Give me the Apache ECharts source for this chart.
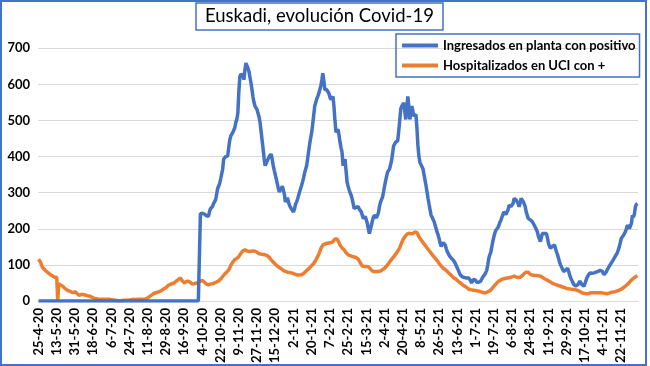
<!DOCTYPE html>
<html>
<head>
<meta charset="utf-8">
<script src="https://cdn.jsdelivr.net/npm/echarts@6/dist/echarts.min.js"></script>
<style>html,body{margin:0;padding:0;background:#fff}#c{width:650px;height:366px}</style>
</head>
<body>
<div id="c"></div>
<script>
const titleText = 'Euskadi, evolución Covid-19';
const seriesNames = ['Ingresados en planta con positivo', 'Hospitalizados en UCI con +'];
const startDate = [2020, 4, 25];
const yTicks = [0, 100, 200, 300, 400, 500, 600, 700];

const ingresados = [
0,0,0,0,0,0,0,0,0,0,0,0,0,0,0,0,0,0,0,0,
0,0,0,0,0,0,0,0,0,0,0,0,0,0,0,0,0,0,0,0,
0,0,0,0,0,0,0,0,0,0,0,0,0,0,0,0,0,0,0,0,
0,0,0,0,0,0,0,0,0,0,0,0,0,0,0,0,0,0,0,0,
0,0,0,0,0,0,0,0,0,0,0,0,0,0,0,0,0,0,0,0,
0,0,0,0,0,0,0,0,0,0,0,0,0,0,0,0,0,0,0,0,
0,0,0,0,0,0,0,0,0,0,0,0,0,0,0,0,0,0,0,0,
0,0,0,0,0,0,0,0,0,0,0,0,0,0,0,0,0,0,0,0,
242,244,243,240,241,238,236,233,235,248,
256,258,262,270,268,280,295,311,318,325,
338,336,365,393,398,400,399,402,425,445,
457,462,467,470,480,495,503,520,580,622,
628,631,625,613,640,659,652,645,636,620,
604,585,565,550,540,535,530,526,510,494,
470,445,421,395,375,380,388,393,400,405,
407,392,375,362,350,338,325,312,302,305,
312,318,320,296,274,280,286,288,265,262,
255,250,247,255,268,274,282,292,302,311,
320,330,342,355,365,375,395,415,435,452,
467,490,515,540,550,560,567,575,585,595,
612,631,610,586,584,585,586,575,565,558,
562,567,540,500,467,470,476,460,440,425,
412,375,385,393,360,329,318,308,300,293,
283,270,256,258,260,261,261,255,250,247,
238,229,229,234,238,215,200,187,198,210,
222,232,238,234,230,229,245,262,274,281,
288,302,318,332,345,357,362,366,371,390,
410,430,435,440,442,444,470,500,531,540,
545,549,525,503,535,567,540,503,520,540,
526,512,514,517,480,430,400,384,378,372,
366,350,335,320,302,284,268,253,238,232,
226,220,210,200,190,183,172,160,151,156,
162,165,155,145,137,132,126,121,119,116,
113,110,104,97,91,85,78,72,69,67,
66,65,64,64,65,64,64,57,50,55,
60,64,58,52,50,52,54,55,60,66,
70,73,78,85,100,118,128,135,150,165,
178,188,196,200,203,210,218,224,232,240,
247,244,240,238,252,265,263,262,261,270,
284,282,280,279,270,261,272,284,280,276,
274,262,247,238,229,227,225,224,220,215,
210,205,198,192,180,172,165,176,187,188,
187,187,187,175,160,152,146,148,152,155,
155,145,136,128,118,108,100,94,88,82,
82,86,89,91,82,72,64,58,52,46,
44,42,41,45,50,55,52,46,42,41,
48,56,64,70,75,78,78,77,78,78,
79,80,81,82,84,85,87,83,78,73,
76,80,86,91,96,100,105,110,114,119,
124,128,133,137,150,162,174,178,181,183,
192,200,210,206,201,203,215,238,232,242,
262,268,270
];

const uci = [
116,114,108,100,93,90,87,84,82,79,
77,75,73,71,69,68,66,64,66,0,
48,46,44,42,41,38,35,33,31,30,
28,27,26,24,23,26,26,25,21,18,
16,17,18,18,18,18,17,16,15,14,
14,13,12,10,9,8,7,6,6,5,
5,5,5,5,5,5,5,5,5,5,
5,4,4,3,3,2,2,1,1,1,
1,1,1,2,2,2,2,2,2,2,
3,3,4,4,5,5,4,5,5,5,
5,4,5,5,5,5,6,7,9,11,
13,15,17,19,21,22,23,24,25,26,
27,28,30,32,34,36,37,40,43,46,
46,47,48,48,50,53,55,57,59,61,
64,62,57,52,50,52,54,55,55,54,
52,50,47,46,48,49,50,50,52,54,
55,56,57,55,52,49,47,46,45,46,
47,48,48,49,50,51,53,55,56,58,
61,64,68,72,75,78,80,82,86,92,
99,104,108,112,115,117,118,119,123,128,
132,136,139,141,142,141,139,138,137,137,
138,138,139,139,138,137,135,133,131,130,
130,129,129,128,128,128,126,124,121,118,
114,111,108,105,102,99,97,95,93,91,
89,87,85,83,82,81,80,80,79,78,
78,77,76,75,74,73,72,71,72,73,
73,74,76,79,82,85,87,89,92,95,
98,100,104,108,113,118,124,130,137,145,
150,155,157,158,159,160,160,161,162,162,
163,164,168,172,174,172,169,162,155,150,
147,146,142,138,134,131,128,127,126,125,
124,123,122,121,120,119,116,111,106,101,
97,96,96,96,96,96,95,92,89,86,
83,82,82,82,82,82,82,82,83,85,
87,89,91,94,97,100,104,108,112,116,
119,122,126,130,134,137,142,148,155,162,
169,174,178,182,185,187,188,187,186,187,
187,189,191,192,190,185,178,174,170,166,
162,158,155,151,147,144,140,137,133,129,
125,122,119,116,112,108,104,100,97,94,
91,88,87,85,82,79,76,73,71,68,
65,63,62,60,57,54,52,50,48,46,
43,41,40,38,36,34,32,31,31,30,
30,30,29,28,28,27,27,26,25,24,
23,23,23,24,26,27,28,31,34,38,
41,44,47,50,53,55,57,59,60,61,
62,62,63,64,64,64,65,66,67,68,
69,68,67,66,65,64,66,68,70,73,
76,78,80,82,80,77,74,73,72,72,
71,71,71,70,70,69,69,68,66,64,
62,60,59,57,56,54,53,51,49,48,
47,46,45,44,43,42,41,40,39,38,
37,36,35,35,34,34,33,33,32,32,
32,31,30,29,28,27,25,23,22,21,
21,20,20,20,21,22,23,23,23,23,
23,23,23,23,23,23,23,22,22,21,
21,20,20,21,22,23,24,24,25,25,
26,27,28,29,30,32,33,35,37,39,
41,43,46,49,52,55,58,60,63,65,
67,69,70
];

// daily category labels d-m-yy
const nDays = Math.max(ingresados.length, uci.length);
const dates = [];
for (let i = 0; i < nDays; i++) {
  const dt = new Date(Date.UTC(startDate[0], startDate[1] - 1, startDate[2] + i));
  dates.push(dt.getUTCDate() + '-' + (dt.getUTCMonth() + 1) + '-' + String(dt.getUTCFullYear()).slice(2));
}

const BLUE = '#4472C4', ORANGE = '#ED7D31';
const chart = echarts.init(document.getElementById('c'), null, {renderer: 'canvas'});
chart.setOption({
  animation: false,
  textStyle: {fontFamily: 'Lato'},
  title: {
    text: titleText, left: 196, top: 3,
    padding: [4, 9, 4, 9],
    borderColor: BLUE, borderWidth: 1.5,
    textStyle: {fontFamily: 'Lato', fontSize: 18.5, fontWeight: 'normal', color: '#000'}
  },
  legend: {
    orient: 'vertical', left: 396, top: 34,
    padding: [5, 4, 5, 6], itemGap: 7,
    borderColor: BLUE, borderWidth: 1.5,
    icon: 'rect', itemWidth: 36, itemHeight: 4,
    textStyle: {fontFamily: 'Lato', fontSize: 13, fontWeight: 'bold', color: '#000'},
    data: seriesNames
  },
  graphic: [{
    type: 'rect', silent: true, z: 100,
    shape: {x: 1, y: 1, width: 645, height: 364},
    style: {fill: 'none', stroke: BLUE, lineWidth: 2}
  }],
  grid: {left: 38, right: 12, top: 48.3, bottom: 62.7, containLabel: false},
  xAxis: {
    type: 'category', data: dates, boundaryGap: true,
    axisLine: {show: true, lineStyle: {color: '#d9d9d9', width: 1}},
    axisTick: {show: false},
    axisLabel: {interval: 17, rotate: 90, margin: 7, fontFamily: 'Lato', fontSize: 13, fontWeight: 'bold', color: '#000'}
  },
  yAxis: {
    type: 'value', min: yTicks[0], max: yTicks[yTicks.length - 1], interval: 100,
    axisLine: {show: false}, axisTick: {show: false},
    splitLine: {lineStyle: {color: '#d9d9d9', width: 1}},
    axisLabel: {margin: 8, fontFamily: 'Lato', fontSize: 13, fontWeight: 'bold', color: '#000'}
  },
  series: [
    {name: seriesNames[0], type: 'line', data: ingresados, showSymbol: false, symbol: 'none',
     lineStyle: {color: BLUE, width: 3.5}, itemStyle: {color: BLUE}, z: 3},
    {name: seriesNames[1], type: 'line', data: uci, showSymbol: false, symbol: 'none',
     lineStyle: {color: ORANGE, width: 3.5}, itemStyle: {color: ORANGE}, z: 2}
  ]
});
</script>
</body>
</html>
